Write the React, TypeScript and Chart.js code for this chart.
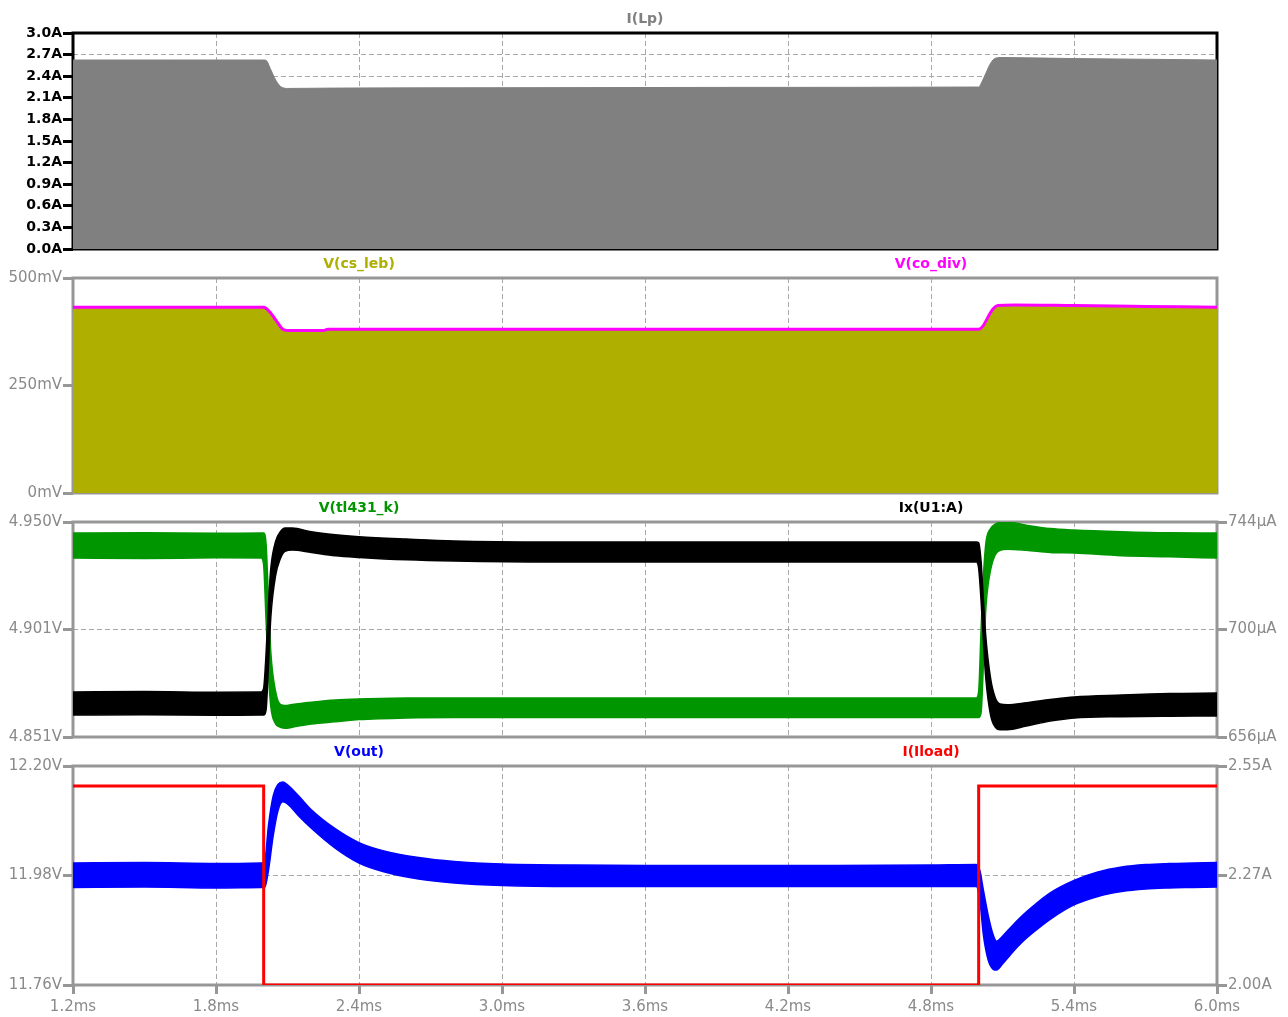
import React, { useEffect, useRef } from "react";
import { Chart, registerables } from "chart.js";

Chart.register(...registerables);

// ---------- shared time axis (ms) ----------
const timeMin = 1.2;
const timeMax = 6.0;
const timeTicks = [1.2, 1.8, 2.4, 3.0, 3.6, 4.2, 4.8, 5.4, 6.0];
const timeTickLabels = ["1.2ms", "1.8ms", "2.4ms", "3.0ms", "3.6ms", "4.2ms", "4.8ms", "5.4ms", "6.0ms"];

// ---------- pane 1: I(Lp) peak envelope (A) ----------
const lpTime = [1.2, 1.6, 2.0, 2.01, 2.03, 2.05, 2.07, 2.1, 2.3, 3.0, 4.0, 5.0, 5.015, 5.03, 5.05, 5.07, 5.1, 5.2, 5.4, 5.7, 6.0];
const lpCurrent = [2.625, 2.625, 2.625, 2.62, 2.49, 2.35, 2.26, 2.23, 2.235, 2.24, 2.245, 2.25, 2.33, 2.44, 2.58, 2.65, 2.66, 2.655, 2.645, 2.635, 2.625];
const lpTicks = [0, 0.3, 0.6, 0.9, 1.2, 1.5, 1.8, 2.1, 2.4, 2.7, 3.0];
const lpTickLabels = ["0.0A", "0.3A", "0.6A", "0.9A", "1.2A", "1.5A", "1.8A", "2.1A", "2.4A", "2.7A", "3.0A"];

// ---------- pane 2: V(cs_leb) envelope and V(co_div) (mV) ----------
const divTime = [1.2, 2.0, 2.03, 2.06, 2.08, 2.1, 2.25, 2.27, 3.0, 4.0, 5.0, 5.02, 5.04, 5.06, 5.08, 5.15, 5.4, 5.7, 6.0];
const csLeb = [430, 430, 416, 393, 379, 376, 376, 379, 379, 379, 379, 388, 408, 426, 434, 435.5, 434, 432, 430];
const coDiv = [432, 432, 418, 395, 381, 378, 378, 381, 381, 381, 381, 390, 410, 428, 436, 437.5, 436, 434, 432];
const mvTicks = [0, 250, 500];
const mvTickLabels = ["0mV", "250mV", "500mV"];

// ---------- pane 3: V(tl431_k) (V) and Ix(U1:A) (µA), ripple bands ----------
const fbTime = [1.2, 1.5, 1.8, 1.99, 2.0, 2.01, 2.02, 2.03, 2.05, 2.07, 2.09, 2.12, 2.2, 2.3, 2.4, 2.6, 2.8, 3.2, 4.0, 4.6, 4.99, 5.0, 5.01, 5.02, 5.03, 5.05, 5.07, 5.09, 5.12, 5.2, 5.3, 5.4, 5.6, 5.8, 6.0];
const tl431High = [4.9449, 4.945, 4.9448, 4.9449, 4.9449, 4.94, 4.915, 4.89, 4.872, 4.866, 4.8655, 4.866, 4.867, 4.868, 4.8685, 4.869, 4.869, 4.869, 4.869, 4.869, 4.869, 4.872, 4.9, 4.925, 4.94, 4.947, 4.949, 4.95, 4.95, 4.9485, 4.947, 4.9463, 4.9455, 4.945, 4.9449];
const tl431Low = [4.9334, 4.9332, 4.9335, 4.9334, 4.93, 4.905, 4.88, 4.865, 4.857, 4.8555, 4.855, 4.8555, 4.857, 4.858, 4.859, 4.8598, 4.86, 4.86, 4.86, 4.86, 4.86, 4.86, 4.862, 4.885, 4.91, 4.928, 4.935, 4.937, 4.9375, 4.937, 4.936, 4.9357, 4.9345, 4.934, 4.9334];
const ixHigh = [674.4, 674.6, 674.3, 674.4, 676, 690, 710, 725, 736, 740, 741.5, 741.5, 740, 738.8, 738, 737, 736.2, 735.8, 735.8, 735.8, 735.8, 735.5, 728, 712, 697, 680, 672, 669.5, 669.2, 670, 671.3, 672.4, 673.2, 673.8, 674];
const ixLow = [665.0, 665.1, 664.9, 665.0, 665.0, 667, 685, 705, 722, 729, 732, 732.5, 731.5, 730.2, 729.5, 728.5, 728, 727.6, 727.6, 727.6, 727.6, 725, 712, 695, 680, 665, 660, 659, 659, 660.5, 662.5, 663.8, 664.3, 664.5, 664.6];
const tl431Ticks = [4.851, 4.9005, 4.95];
const tl431TickLabels = ["4.851V", "4.901V", "4.950V"];
const ixTicks = [656, 700, 744];
const ixTickLabels = ["656µA", "700µA", "744µA"];

// ---------- pane 4: V(out) (V) ripple band and I(Iload) (A) ----------
const outTime = [1.2, 1.5, 1.8, 1.99, 2.005, 2.02, 2.04, 2.06, 2.08, 2.1, 2.15, 2.2, 2.3, 2.4, 2.5, 2.65, 2.8, 3.0, 3.3, 3.6, 4.0, 4.4, 4.8, 4.99, 5.005, 5.02, 5.04, 5.06, 5.075, 5.1, 5.135, 5.18, 5.23, 5.3, 5.4, 5.5, 5.6, 5.7, 5.8, 5.9, 6.0];
const voutHigh = [12.005, 12.006, 12.004, 12.005, 12.01, 12.08, 12.14, 12.163, 12.168, 12.162, 12.138, 12.112, 12.074, 12.046, 12.03, 12.016, 12.008, 12.003, 12.001, 12.0, 12.0, 12.0, 12.001, 12.002, 11.99, 11.95, 11.9, 11.862, 11.848, 11.858, 11.876, 11.898, 11.919, 11.945, 11.97, 11.987, 11.997, 12.002, 12.004, 12.005, 12.006];
const voutLow = [11.956, 11.957, 11.955, 11.956, 11.957, 11.99, 12.06, 12.11, 12.128, 12.124, 12.098, 12.075, 12.035, 12.005, 11.988, 11.973, 11.965, 11.96, 11.958, 11.958, 11.958, 11.958, 11.958, 11.958, 11.93, 11.86, 11.81, 11.792, 11.79, 11.802, 11.822, 11.845, 11.866, 11.892, 11.921, 11.938, 11.948, 11.953, 11.955, 11.956, 11.957];
const iloadTime = [1.2, 2.0, 2.0, 5.0, 5.0, 6.0];
const iloadCurrent = [2.5, 2.5, 2.0, 2.0, 2.5, 2.5];
const voutTicks = [11.76, 11.98, 12.2];
const voutTickLabels = ["11.76V", "11.98V", "12.20V"];
const iloadTicks = [2.0, 2.275, 2.55];
const iloadTickLabels = ["2.00A", "2.27A", "2.55A"];

// ---------- styling ----------
const W = 1288;
const LEFT_AXIS_W = 73;
const RIGHT_AXIS_W = 71;
const GRAY = "#8a8a8a";
const FRAME_GRAY = "#979797";
const GRID = "#a8a8a8";
const labelFont = { family: "'DejaVu Sans', sans-serif", size: 15, weight: "normal" as const };
const boldLabelFont = { family: "'DejaVu Sans', sans-serif", size: 14, weight: "bold" as const };
const TITLE_FONT = "bold 14px 'DejaVu Sans', sans-serif";

const pts = (t: number[], v: number[]) => t.map((x, i) => ({ x, y: v[i] }));

function bandDatasets(t: number[], hi: number[], lo: number[], color: string, yAxisID: string, order: number) {
  return [
    { data: pts(t, hi), borderColor: color, backgroundColor: color, borderWidth: 1.5, pointRadius: 0, fill: "+1", cubicInterpolationMode: "monotone", yAxisID, order },
    { data: pts(t, lo), borderColor: color, backgroundColor: color, borderWidth: 1.5, pointRadius: 0, fill: false, cubicInterpolationMode: "monotone", yAxisID, order },
  ];
}

function yScale(position: string, min: number, max: number, ticks: number[], labels: string[], color: string, font: any, tickColor: string, onArea: boolean, width: number) {
  return {
    type: "linear",
    position,
    min,
    max,
    afterBuildTicks: (s: any) => {
      s.ticks = ticks.map((v) => ({ value: v }));
    },
    afterFit: (s: any) => {
      s.width = width;
    },
    ticks: { autoSkip: false, color, font, padding: 1, callback: (_v: any, i: number) => labels[i] },
    grid: { display: true, drawOnChartArea: onArea, color: GRID, lineWidth: 1, drawTicks: true, tickLength: 10, tickWidth: 3, tickColor, tickBorderDash: [] },
    border: { display: false, dash: [5, 3] },
  };
}

function xScale(showLabels: boolean) {
  return {
    type: "linear",
    position: "bottom",
    min: timeMin,
    max: timeMax,
    afterBuildTicks: (s: any) => {
      s.ticks = timeTicks.map((v) => ({ value: v }));
    },
    afterFit: (s: any) => {
      s.height = showLabels ? 32 : 0;
    },
    ticks: { display: showLabels, autoSkip: false, maxRotation: 0, minRotation: 0, color: GRAY, font: labelFont, padding: 4, callback: (_v: any, i: number) => timeTickLabels[i] },
    grid: { display: true, color: GRID, lineWidth: 1, drawTicks: showLabels, tickLength: 9, tickWidth: 3, tickColor: FRAME_GRAY, tickBorderDash: [] },
    border: { display: false, dash: [5, 3] },
  };
}

type Title = { text: string; color: string; frac: number };

function panePlugin(frameColor: string, titles: Title[]) {
  return {
    id: "paneDecor",
    beforeDatasetsDraw(chart: any) {
      const { ctx, chartArea: a } = chart;
      ctx.save();
      ctx.strokeStyle = frameColor;
      ctx.lineWidth = 3;
      ctx.strokeRect(a.left, a.top, a.right - a.left, a.bottom - a.top);
      ctx.restore();
    },
    afterDraw(chart: any) {
      const { ctx, chartArea: a } = chart;
      ctx.save();
      ctx.font = TITLE_FONT;
      ctx.textAlign = "center";
      ctx.textBaseline = "middle";
      titles.forEach((t) => {
        ctx.fillStyle = t.color;
        ctx.fillText(t.text, a.left + (a.right - a.left) * t.frac, a.top - 14);
      });
      ctx.restore();
    },
  };
}

function makeChart(canvas: HTMLCanvasElement, cfg: { padTop: number; padBottom: number; hasRight: boolean; datasets: any[]; scales: any; frame: string; titles: Title[] }) {
  return new Chart(canvas, {
    type: "line",
    data: { datasets: cfg.datasets },
    options: {
      responsive: false,
      animation: false,
      devicePixelRatio: 1,
      events: [],
      layout: { padding: { top: cfg.padTop, bottom: cfg.padBottom, left: 0, right: cfg.hasRight ? 0 : RIGHT_AXIS_W } },
      plugins: { legend: { display: false }, tooltip: { enabled: false }, title: { display: false } },
      elements: { line: { tension: 0 }, point: { radius: 0 } },
      scales: cfg.scales,
    } as any,
    plugins: [panePlugin(cfg.frame, cfg.titles)],
  });
}

const panes = [
  { top: 0, height: 262 },
  { top: 250, height: 256 },
  { top: 495, height: 255 },
  { top: 740, height: 277 },
];

export default function App() {
  const r1 = useRef<HTMLCanvasElement>(null);
  const r2 = useRef<HTMLCanvasElement>(null);
  const r3 = useRef<HTMLCanvasElement>(null);
  const r4 = useRef<HTMLCanvasElement>(null);

  useEffect(() => {
    const charts: Chart[] = [];

    charts.push(
      makeChart(r1.current!, {
        padTop: 33,
        padBottom: 13,
        hasRight: false,
        frame: "#000000",
        titles: [{ text: "I(Lp)", color: "#808080", frac: 0.5 }],
        datasets: [
          { data: pts(lpTime, lpCurrent), borderColor: "#808080", backgroundColor: "#808080", borderWidth: 1, pointRadius: 0, fill: "origin", cubicInterpolationMode: "monotone", yAxisID: "y" },
        ],
        scales: {
          x: xScale(false),
          y: yScale("left", 0, 3.0, lpTicks, lpTickLabels, "#000000", boldLabelFont, "#000000", true, LEFT_AXIS_W),
        },
      })
    );

    charts.push(
      makeChart(r2.current!, {
        padTop: 28,
        padBottom: 13,
        hasRight: false,
        frame: FRAME_GRAY,
        titles: [
          { text: "V(cs_leb)", color: "#afaf00", frac: 0.25 },
          { text: "V(co_div)", color: "#ff00ff", frac: 0.75 },
        ],
        datasets: [
          { data: pts(divTime, csLeb), borderColor: "#afaf00", backgroundColor: "#afaf00", borderWidth: 1, pointRadius: 0, fill: "origin", cubicInterpolationMode: "monotone", yAxisID: "y", order: 1 },
          { data: pts(divTime, coDiv), borderColor: "#ff00ff", borderWidth: 3, pointRadius: 0, fill: false, cubicInterpolationMode: "monotone", yAxisID: "y", order: 0 },
        ],
        scales: {
          x: xScale(false),
          y: yScale("left", 0, 500, mvTicks, mvTickLabels, GRAY, labelFont, FRAME_GRAY, true, LEFT_AXIS_W),
        },
      })
    );

    charts.push(
      makeChart(r3.current!, {
        padTop: 27,
        padBottom: 13,
        hasRight: true,
        frame: FRAME_GRAY,
        titles: [
          { text: "V(tl431_k)", color: "#009600", frac: 0.25 },
          { text: "Ix(U1:A)", color: "#000000", frac: 0.75 },
        ],
        datasets: [
          ...bandDatasets(fbTime, tl431High, tl431Low, "#009600", "y", 1),
          ...bandDatasets(fbTime, ixHigh, ixLow, "#000000", "y2", 0),
        ],
        scales: {
          x: xScale(false),
          y: yScale("left", 4.851, 4.95, tl431Ticks, tl431TickLabels, GRAY, labelFont, FRAME_GRAY, true, LEFT_AXIS_W),
          y2: yScale("right", 656, 744, ixTicks, ixTickLabels, GRAY, labelFont, FRAME_GRAY, false, RIGHT_AXIS_W),
        },
      })
    );

    charts.push(
      makeChart(r4.current!, {
        padTop: 26,
        padBottom: 0,
        hasRight: true,
        frame: FRAME_GRAY,
        titles: [
          { text: "V(out)", color: "#0000ff", frac: 0.25 },
          { text: "I(Iload)", color: "#ff0000", frac: 0.75 },
        ],
        datasets: [
          ...bandDatasets(outTime, voutHigh, voutLow, "#0000ff", "y", 1),
          { data: pts(iloadTime, iloadCurrent), borderColor: "#ff0000", borderWidth: 3, pointRadius: 0, fill: false, yAxisID: "y2", order: 0 },
        ],
        scales: {
          x: xScale(true),
          y: yScale("left", 11.76, 12.2, voutTicks, voutTickLabels, GRAY, labelFont, FRAME_GRAY, true, LEFT_AXIS_W),
          y2: yScale("right", 2.0, 2.55, iloadTicks, iloadTickLabels, GRAY, labelFont, FRAME_GRAY, false, RIGHT_AXIS_W),
        },
      })
    );

    return () => charts.forEach((c) => c.destroy());
  }, []);

  const refs = [r1, r2, r3, r4];
  return (
    <div style={{ position: "absolute", left: 0, top: 0, width: W, height: 1017, background: "#ffffff", overflow: "hidden" }}>
      {panes.map((p, i) => (
        <canvas
          key={i}
          ref={refs[i]}
          width={W}
          height={p.height}
          style={{ position: "absolute", left: 0, top: p.top, width: W, height: p.height }}
        />
      ))}
    </div>
  );
}
